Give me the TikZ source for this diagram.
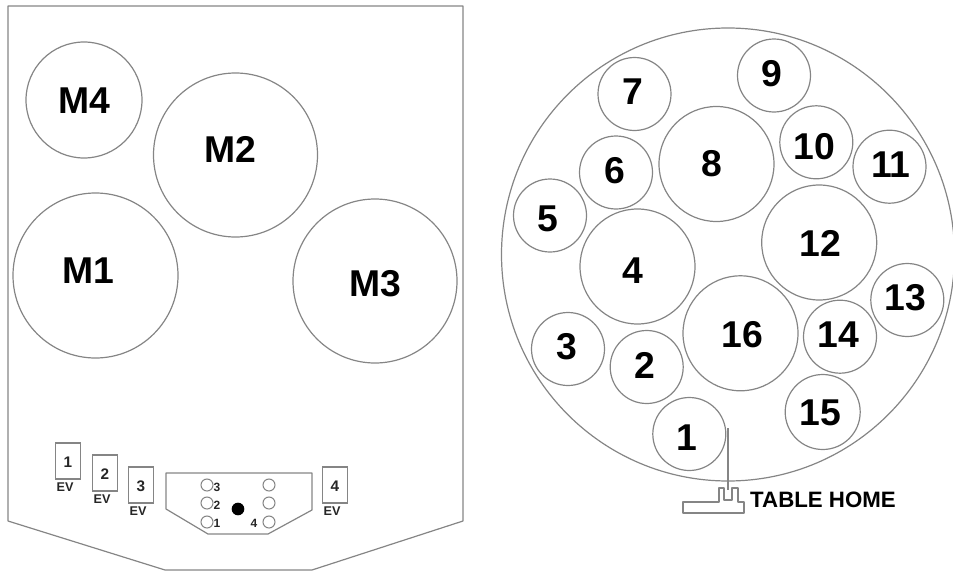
\documentclass[tikz,border=0pt]{standalone}
\usepackage{fontspec}
\setmainfont{Liberation Sans}
\definecolor{ln}{HTML}{858585}
\tikzset{
  disc/.style={circle,draw=ln,line width=0.9pt,inner sep=0pt,minimum size=#1*0.75pt},
  big/.style={font=\fontsize{28}{28}\selectfont\bfseries,text=black,inner sep=0pt},
  tiny/.style={font=\fontsize{9}{9}\selectfont\bfseries,text=black!85,inner sep=0pt},
  evbox/.style={draw=ln,line width=0.9pt,inner sep=0pt,minimum width=18.75pt,minimum height=27pt},
  hole/.style={circle,draw=ln,line width=0.8pt,inner sep=0pt,minimum size=9pt},
  outl/.style={draw=ln,line width=0.9pt,line join=round}
}
\begin{document}
\begin{tikzpicture}[x=0.75pt,y=-0.75pt]
\useasboundingbox (0,0) rectangle (953,571);
% left plate
\draw[outl] (8,6) -- (463,6) -- (463,521) -- (312,570) -- (165,570) -- (8,521) -- cycle;
\foreach \n/\x/\y/\d/\tx/\ty in {M4/84/100/116/84/100.5,M2/235.5/155/164/230/149,M1/95.5/275.5/165/88/271,M3/375/281/164/375/284}{
  \node[disc=\d] (c\n) at (\x,\y) {};
  \node[big] (t\n) at (\tx,\ty) {\n};
}
% EV boxes
\foreach \n/\x/\y in {1/68/461,2/105/473,3/141/485,4/335/485}{
  \node[evbox] (b\n) at (\x,\y) {};
  \node[tiny,font=\fontsize{11.5}{11.5}\selectfont\bfseries] (bt\n) at (\x,\y+1) {\n};
  \node[tiny,font=\fontsize{9.5}{10}\selectfont\bfseries] (ev\n) at (\x-3,\y+26) {EV};
}
% control panel
\draw[outl] (166,473) -- (312,473) -- (312,510) -- (268,534) -- (208,534) -- (166,509) -- cycle;
\foreach \i/\x/\y in {a/207/485,b/207/503,c/207/522,d/269/485,e/269/503,f/269/522}{
  \node[hole] (h\i) at (\x,\y) {};
}
\node[circle,fill=black,inner sep=0pt,minimum size=9.5pt] (hub) at (238,509) {};
\node[tiny] (l3) at (217,487) {3};
\node[tiny] (l2) at (217,505) {2};
\node[tiny] (l1) at (217,523) {1};
\node[tiny] (l4) at (254,523) {4};
% right table
\node[disc=453] (table) at (728,254.5) {};
\foreach \n/\x/\y/\d/\tx/\ty in {
 7/634.5/94/73/633/92, 9/774/75.5/73/772/74, 8/716.5/164/115/712/164, 10/816.3/142.3/73/814/147,
 11/889.5/166.7/73/891/165, 6/616/172.5/73/615/171, 5/550/215.5/73/548/219, 4/637.5/266.5/115/633/271,
 12/819.2/242.5/115/820/243, 13/907.3/300/73/905/298, 14/840/336.7/73/838/335, 16/740.5/333.3/115/742/335,
 3/568/349/73/567/347, 2/646.7/367/73/645/365, 15/822.7/412/75/820/413, 1/689.3/434/73/687/438}{
  \node[disc=\d] (c\n) at (\x,\y) {};
  \node[big] (t\n) at (\tx,\ty) {\n};
}
% table home
\coordinate (ht) at (728,428);
\coordinate (hb) at (728,490);
\draw[outl] (ht) -- (hb);
\draw[outl] (683,502) -- (719,502) -- (719,488) -- (724,488) -- (724,500) -- (732,500) -- (732,488) -- (738,488) -- (738,502) -- (744,502) -- (744,513) -- (683,513) -- cycle;
\node[inner sep=0pt,font=\fontsize{16.7}{16.7}\selectfont\bfseries,text=black] (home) at (823,500) {TABLE HOME};
\end{tikzpicture}
\end{document}
